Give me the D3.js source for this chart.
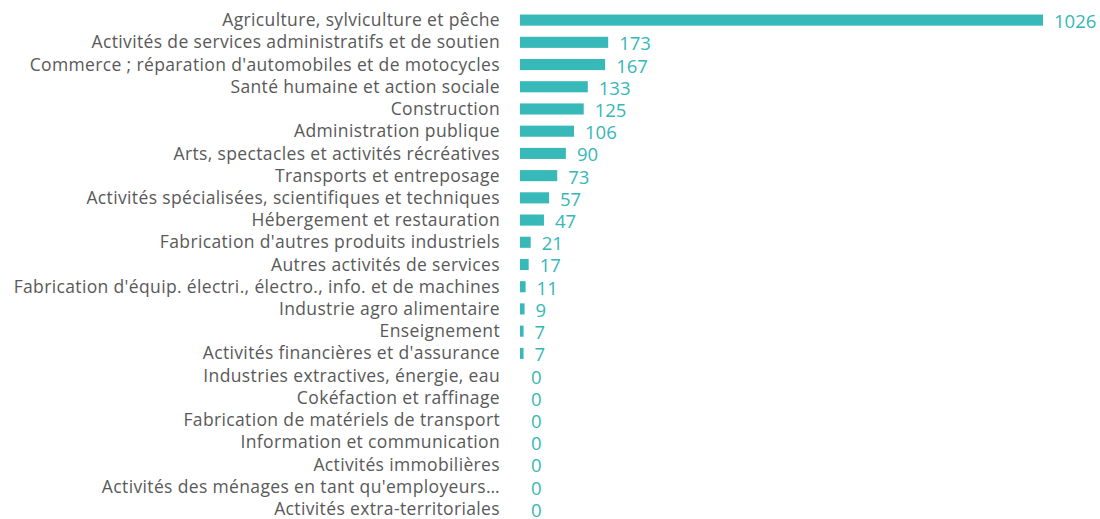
<!DOCTYPE html>
<html>
<head>
<meta charset="utf-8">
<script src="https://cdn.jsdelivr.net/npm/d3@7"></script>
<style>
  body { margin: 0; background: #fff; }
  svg { display: block; }
  .yLabel { font-family: "Open Sans", "Noto Sans", sans-serif; font-size: 17.5px; letter-spacing: 0.36px; fill: #595959; }
  .valueLabel { font-family: "Open Sans", "Noto Sans", sans-serif; font-size: 18.5px; fill: #36b7b7; }
</style>
</head>
<body>
<div id="chart"><svg width="1100" height="519"></svg></div>
<script>
// categories, top to bottom
const categories = [
  "Agriculture, sylviculture et pêche",
  "Activités de services administratifs et de soutien",
  "Commerce ; réparation d'automobiles et de motocycles",
  "Santé humaine et action sociale",
  "Construction",
  "Administration publique",
  "Arts, spectacles et activités récréatives",
  "Transports et entreposage",
  "Activités spécialisées, scientifiques et techniques",
  "Hébergement et restauration",
  "Fabrication d'autres produits industriels",
  "Autres activités de services",
  "Fabrication d'équip. électri., électro., info. et de machines",
  "Industrie agro alimentaire",
  "Enseignement",
  "Activités financières et d'assurance",
  "Industries extractives, énergie, eau",
  "Cokéfaction et raffinage",
  "Fabrication de matériels de transport",
  "Information et communication",
  "Activités immobilières",
  "Activités des ménages en tant qu'employeurs…",
  "Activités extra-territoriales"
];

const values = [1026, 173, 167, 133, 125, 106, 90, 73, 57, 47, 21, 17, 11, 9, 7, 7, 0, 0, 0, 0, 0, 0, 0];

const BAR_COLOR = "#38b9b9";

/***** SETUP *****/
const width = 1100;
const height = 519;
const margin = {top: 9, left: 520, right: 57, bottom: 0};

const svg = d3.select("#chart").select("svg");

const data = categories.map((c, i) => ({cat: c, val: values[i]}));

/***** SCALES *****/
let xScale = d3.scaleLinear()
    .domain([0, 1026])
    .range([margin.left, width - margin.right]);

let yScale = d3.scaleBand()
    .domain(categories)
    .range([margin.top, height - margin.bottom + 1])
    .paddingInner(0.5)
    .paddingOuter(0.25);

/***** BARS *****/
svg.selectAll(".bar")
    .data(data)
    .enter()
    .append("rect")
    .attr("class", "bar")
    .attr("x", xScale(0))
    .attr("y", d => yScale(d.cat))
    .attr("width", d => xScale(d.val) - xScale(0))
    .attr("height", yScale.bandwidth())
    .attr("fill", BAR_COLOR);

/***** CATEGORY LABELS *****/
svg.selectAll(".yLabel")
    .data(data)
    .enter()
    .append("text")
    .attr("class", "yLabel")
    .attr("x", margin.left - 20)
    .attr("y", d => yScale(d.cat) + yScale.bandwidth() / 2)
    .attr("dy", "0.35em")
    .attr("text-anchor", "end")
    .text(d => d.cat);

/***** VALUE LABELS *****/
svg.selectAll(".valueLabel")
    .data(data)
    .enter()
    .append("text")
    .attr("class", "valueLabel")
    .attr("x", d => xScale(d.val) + 11)
    .attr("y", d => yScale(d.cat) + yScale.bandwidth() / 2 + 1.5)
    .attr("dy", "0.35em")
    .attr("text-anchor", "start")
    .text(d => d.val);
</script>
</body>
</html>
